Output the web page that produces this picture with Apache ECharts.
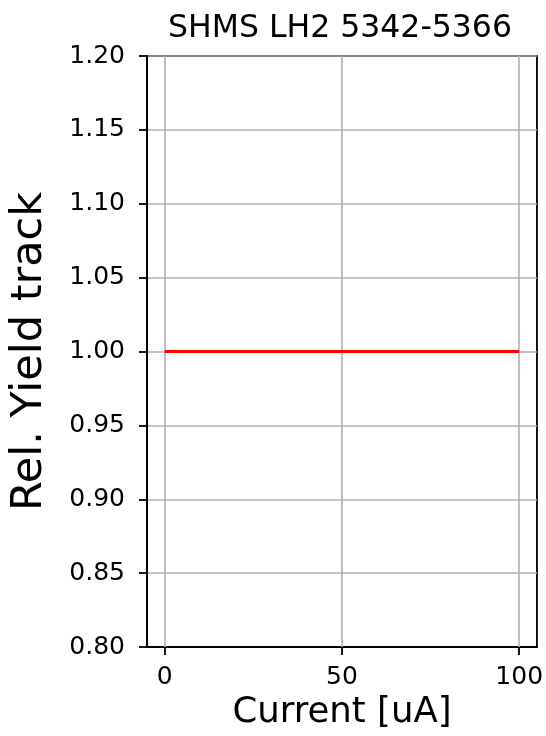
<!DOCTYPE html>
<html>
<head>
<meta charset="utf-8">
<script src="https://cdn.jsdelivr.net/npm/echarts@6/dist/echarts.min.js"></script>
<style>
html,body{margin:0;padding:0;background:#fff;}
#chart{width:546px;height:736px;}
</style>
</head>
<body>
<div id="chart"></div>
<script>
var titleText = 'SHMS LH2 5342-5366';
var xName = 'Current [uA]';
var yName = 'Rel. Yield track';
var currents = [0, 100];
var yields = [1.0, 1.0];
var xTicks = [0, 50, 100];
var xMin = -5, xMax = 105;
var yMin = 0.80, yMax = 1.20, yStep = 0.05;

var font = 'DejaVu Sans';
var chart = echarts.init(document.getElementById('chart'), null, {renderer: 'canvas'});
var option = {
  animation: false,
  backgroundColor: '#ffffff',
  title: {
    text: titleText,
    left: 335,
    textAlign: 'center',
    top: 8,
    textStyle: {fontFamily: font, fontSize: 31.5, fontWeight: 'normal', color: '#000'}
  },
  grid: {
    left: 145, right: 9, top: 56, bottom: 89,
    show: true, borderColor: '#000', borderWidth: 1.8, backgroundColor: 'transparent'
  },
  xAxis: {
    type: 'value',
    min: xMin, max: xMax,
    name: xName,
    nameLocation: 'middle',
    nameGap: 48,
    nameTextStyle: {fontFamily: font, fontSize: 35.5, color: '#000'},
    axisLine: {show: true, onZero: false, lineStyle: {color: '#000', width: 1.8}},
    axisTick: {show: true, customValues: xTicks, length: 8, lineStyle: {color: '#000', width: 1.8}},
    axisLabel: {customValues: xTicks, fontFamily: font, fontSize: 25, color: '#000', margin: 18},
    splitLine: {show: false}
  },
  yAxis: {
    type: 'value',
    min: yMin, max: yMax, interval: yStep,
    name: yName,
    nameLocation: 'middle',
    nameRotate: 90,
    nameGap: 96,
    nameTextStyle: {fontFamily: font, fontSize: 43, color: '#000'},
    axisLine: {show: true, onZero: false, lineStyle: {color: '#000', width: 1.8}},
    axisTick: {show: true, length: 8, lineStyle: {color: '#000', width: 1.8}},
    axisLabel: {fontFamily: font, fontSize: 25, color: '#000', margin: 22,
      formatter: function (v) { return v.toFixed(2); }},
    splitLine: {show: true, lineStyle: {color: '#b0b0b0', width: 1.6}}
  },
  series: [{
    type: 'line',
    data: currents.map(function (c, i) { return [c, yields[i]]; }),
    symbol: 'none',
    lineStyle: {color: '#ff0000', width: 3},
    z: 5,
    markLine: {
      silent: true,
      symbol: 'none',
      label: {show: false},
      lineStyle: {color: '#b0b0b0', width: 1.6, type: 'solid'},
      data: xTicks.map(function (t) { return {xAxis: t}; }),
      z: 1
    }
  }]
};
chart.setOption(option);
</script>
</body>
</html>
